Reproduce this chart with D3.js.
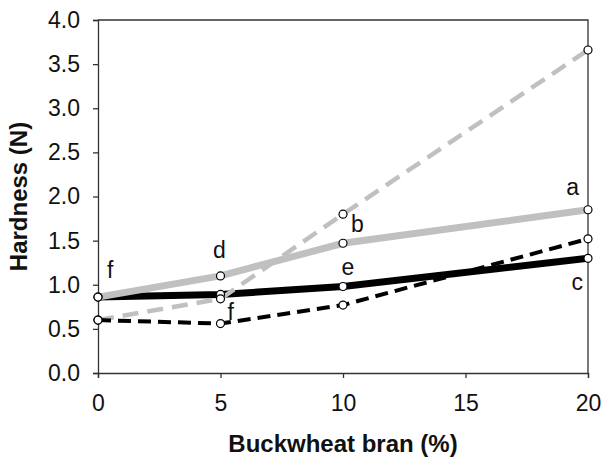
<!DOCTYPE html>
<html>
<head>
<meta charset="utf-8">
<script src="https://cdn.jsdelivr.net/npm/d3@7"></script>
<style>
  body { margin: 0; background: #fff; }
  text { font-family: "Liberation Sans", Arial, sans-serif; }
</style>
</head>
<body>
<div id="chart"></div>
<script>
// bran level (%) and hardness (N) per series
const branLevels = [0, 5, 10, 20];
const graySolid = [0.86, 1.10, 1.47, 1.85];
const blackSolid = [0.86, 0.89, 0.98, 1.30];
const grayDashed = [0.60, 0.84, 1.80, 3.66];
const blackDashed = [0.60, 0.56, 0.77, 1.52];

const xTicks = [0, 5, 10, 15, 20];
const yTicks = [0, 0.5, 1, 1.5, 2, 2.5, 3, 3.5, 4];

// significance letters: which series / point they belong to
const letterText = ["f", "d", "b", "a", "f", "e", "c"];
const letterSeries = ["graySolid", "graySolid", "graySolid", "graySolid", "blackSolid", "blackSolid", "blackSolid"];
const letterPoint = [0, 1, 2, 3, 1, 2, 3];

function drawChart(containerId = "#chart") {
    const width = 601, height = 459;
    const margin = { top: 20, right: 13, bottom: 86, left: 98 };
    const w = width - margin.left - margin.right;
    const h = height - margin.top - margin.bottom;

    const svg = d3.select(containerId)
        .append("svg")
        .attr("width", width)
        .attr("height", height)
        .append("g")
        .attr("transform", `translate(${margin.left},${margin.top})`);

    const x = d3.scaleLinear().domain([0, 20]).range([0, w]);
    const y = d3.scaleLinear().domain([0, 4]).range([h, 0]);

    const axisColor = "#333";

    // frame top + right
    svg.append("path")
        .attr("d", `M0,0H${w}V${h}`)
        .attr("fill", "none")
        .attr("stroke", axisColor)
        .attr("stroke-width", 1.3);

    const xAxis = svg.append("g")
        .attr("transform", `translate(0,${h})`)
        .call(d3.axisBottom(x).tickValues(xTicks).tickSize(5).tickPadding(17).tickFormat(d3.format("d")));
    xAxis.select(".domain").attr("stroke", axisColor).attr("stroke-width", 1.3);
    xAxis.selectAll(".tick line").attr("stroke", axisColor).attr("stroke-width", 1.3);
    xAxis.selectAll("text")
        .style("font-size", "23px")
        .style("font-family", "Liberation Sans, Arial, sans-serif")
        .attr("fill", "#111");

    const yAxis = svg.append("g")
        .call(d3.axisLeft(y).tickValues(yTicks).tickSize(5).tickPadding(13).tickFormat(d3.format(".1f")));
    yAxis.select(".domain").attr("stroke", axisColor).attr("stroke-width", 1.3);
    yAxis.selectAll(".tick line").attr("stroke", axisColor).attr("stroke-width", 1.3);
    yAxis.selectAll("text")
        .style("font-size", "23px")
        .style("font-family", "Liberation Sans, Arial, sans-serif")
        .attr("fill", "#111");

    const series = [
        { key: "blackSolid", values: blackSolid, color: "#000", width: 7, dash: null },
        { key: "graySolid", values: graySolid, color: "#c0c0c0", width: 7, dash: null },
        { key: "grayDashed", values: grayDashed, color: "#c0c0c0", width: 4.5, dash: "16,9" },
        { key: "blackDashed", values: blackDashed, color: "#000", width: 4, dash: "13,7" }
    ];

    const line = d3.line()
        .x((d, i) => x(branLevels[i]))
        .y(d => y(d));

    series.forEach(s => {
        svg.append("path")
            .datum(s.values)
            .attr("d", line)
            .attr("fill", "none")
            .attr("stroke", s.color)
            .attr("stroke-width", s.width)
            .attr("stroke-dasharray", s.dash);
    });

    series.forEach(s => {
        svg.selectAll(null)
            .data(s.values)
            .enter().append("circle")
            .attr("cx", (d, i) => x(branLevels[i]))
            .attr("cy", d => y(d))
            .attr("r", 4)
            .attr("fill", "#fff")
            .attr("stroke", "#000")
            .attr("stroke-width", 1.2);
    });

    // letter placement relative to its point (px)
    const letterOffsets = [
        { dx: 9, dy: -19, anchor: "start" },
        { dx: -1, dy: -18, anchor: "middle" },
        { dx: 8, dy: -11, anchor: "start" },
        { dx: -9, dy: -15, anchor: "end" },
        { dx: 7, dy: 26, anchor: "start" },
        { dx: 5, dy: -12, anchor: "middle" },
        { dx: -5, dy: 32, anchor: "end" }
    ];
    const seriesByKey = { graySolid, blackSolid };

    svg.selectAll(".letter")
        .data(letterText)
        .enter().append("text")
        .attr("class", "letter")
        .attr("x", (d, i) => x(branLevels[letterPoint[i]]) + letterOffsets[i].dx)
        .attr("y", (d, i) => y(seriesByKey[letterSeries[i]][letterPoint[i]]) + letterOffsets[i].dy)
        .attr("text-anchor", (d, i) => letterOffsets[i].anchor)
        .style("font-size", "23px")
        .attr("fill", "#111")
        .text(d => d);

    svg.append("text")
        .attr("x", w / 2)
        .attr("y", h + 79)
        .attr("text-anchor", "middle")
        .style("font-size", "24px")
        .style("font-weight", "bold")
        .attr("fill", "#111")
        .text("Buckwheat bran (%)");

    svg.append("text")
        .attr("transform", `translate(${27 - margin.left},${h / 2}) rotate(-90)`)
        .attr("text-anchor", "middle")
        .style("font-size", "24px")
        .style("font-weight", "bold")
        .attr("fill", "#111")
        .text("Hardness (N)");
}

drawChart();
</script>
</body>
</html>
